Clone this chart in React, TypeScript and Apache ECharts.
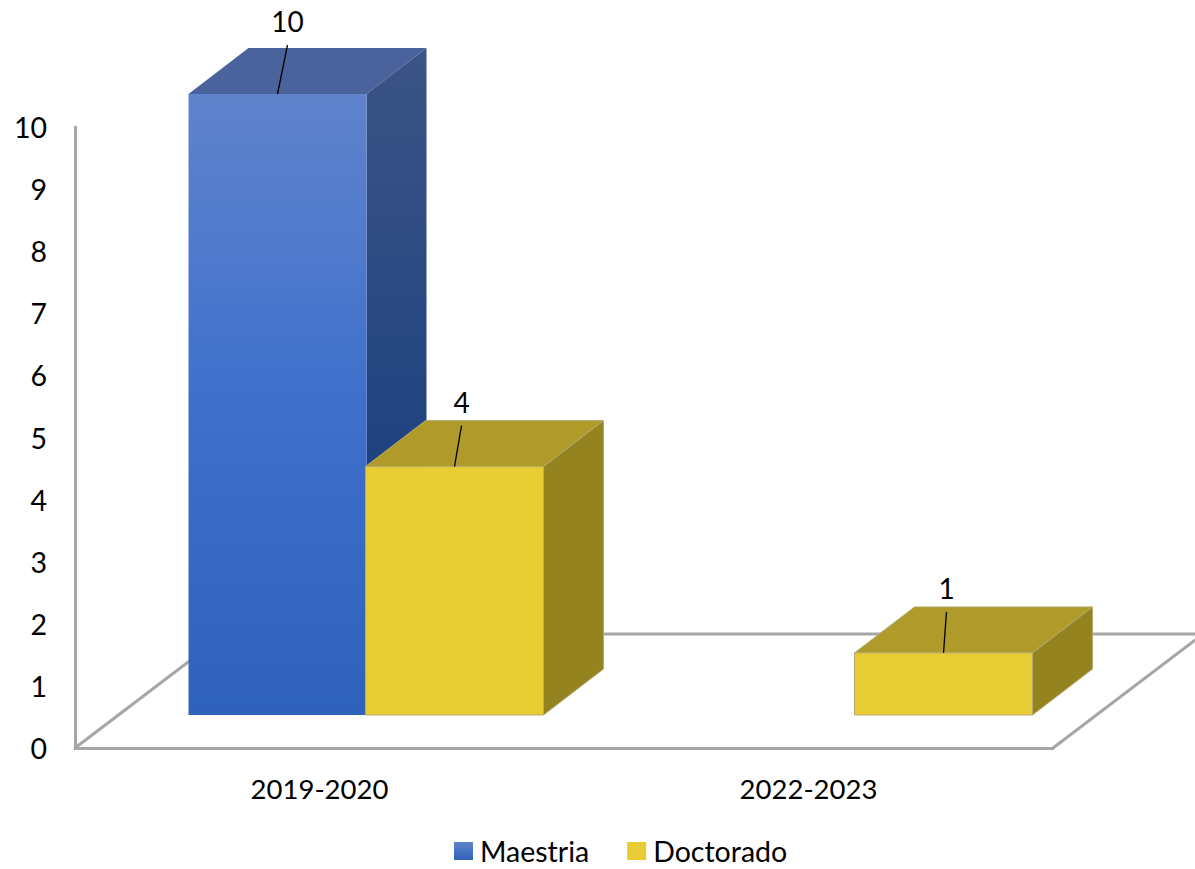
import React, { useEffect, useRef } from "react";
import * as echarts from "echarts";

const categories = ["2019-2020", "2022-2023"];
const maestria: (number | null)[] = [10, null];
const doctorado: (number | null)[] = [4, 1];
const yTicks = [0, 1, 2, 3, 4, 5, 6, 7, 8, 9, 10];

const FONT = "Lato";
const DEPTH_X = 60;
const DEPTH_Y = -46;
const FLOOR_LIFT = 33;
const BAR_W = 178;
const GRAY = "#a6a6a6";

const grad = (stops: [number, string][]) =>
  new echarts.graphic.LinearGradient(0, 0, 0, 1, stops.map(([offset, color]) => ({ offset, color })));

const blueStyle = {
  front: () => grad([[0, "#6083cc"], [0.5, "#3e70cc"], [1, "#2f62ba"]]),
  top: () => "#4a639d",
  side: () => grad([[0, "#3c5486"], [0.65, "#1e427f"], [1, "#1e427f"]]),
  stroke: "none",
  legend: () => grad([[0, "#6083cc"], [1, "#2f62ba"]]),
};
const yellowStyle = {
  front: () => "#e8cc33",
  top: () => "#b09b2a",
  side: () => "#94831f",
  stroke: "#b5ab72",
  legend: () => "#e8cc33",
};

function barRenderer(xOffset: number, look: typeof blueStyle, lean: number[], gap: number[]) {
  return (params: any, api: any) => {
    const v = api.value(1);
    if (v == null || isNaN(v)) return null;
    const cat = api.value(0);
    const top = api.coord([cat, v]);
    const base = api.coord([cat, 0]);
    const xL = top[0] + xOffset;
    const xR = xL + BAR_W;
    const yT = top[1] - FLOOR_LIFT;
    const yB = base[1] - FLOOR_LIFT;
    const i = params.dataIndex;
    const cx = (xL + xR) / 2;
    const leaderTop = yT - gap[i];
    const strokeCfg = { stroke: look.stroke, lineWidth: look.stroke === "none" ? 0 : 1 };
    return {
      type: "group",
      children: [
        {
          type: "polygon",
          shape: { points: [[xL, yT], [xR, yT], [xR + DEPTH_X, yT + DEPTH_Y], [xL + DEPTH_X, yT + DEPTH_Y]] },
          style: { fill: look.top(), ...strokeCfg },
        },
        {
          type: "polygon",
          shape: { points: [[xR, yT], [xR + DEPTH_X, yT + DEPTH_Y], [xR + DEPTH_X, yB + DEPTH_Y], [xR, yB]] },
          style: { fill: look.side(), ...strokeCfg },
        },
        {
          type: "rect",
          shape: { x: xL, y: yT, width: BAR_W, height: yB - yT },
          style: { fill: look.front(), ...strokeCfg },
        },
        {
          type: "line",
          shape: { x1: cx, y1: yT, x2: cx + lean[i], y2: leaderTop },
          style: { stroke: "#000", lineWidth: 1.3 },
        },
        {
          type: "text",
          style: {
            x: cx + lean[i],
            y: leaderTop - 24,
            text: String(v),
            fill: "#000",
            font: `28px ${FONT}`,
            align: "center",
            verticalAlign: "middle",
          },
        },
      ],
    };
  };
}

function floorRenderer(_params: any, api: any) {
  const o = api.coord([0, 0]);
  const size = api.size([1, 0])[0];
  const gridLeft = o[0] - size / 2;
  const gridRight = gridLeft + size * categories.length;
  const dx = 150;
  const dy = -114;
  const style = { stroke: GRAY, lineWidth: 3, fill: "none" };
  return {
    type: "group",
    children: [
      { type: "line", shape: { x1: gridLeft, y1: o[1], x2: gridLeft + dx, y2: o[1] + dy }, style },
      { type: "line", shape: { x1: gridLeft + dx, y1: o[1] + dy, x2: gridRight + dx, y2: o[1] + dy }, style },
      { type: "line", shape: { x1: gridRight, y1: o[1], x2: gridRight + dx, y2: o[1] + dy }, style },
    ],
  };
}

export default function App() {
  const ref = useRef<HTMLDivElement>(null);
  useEffect(() => {
    const chart = echarts.init(ref.current!, undefined, { renderer: "svg" });
    chart.setOption({
      animation: false,
      backgroundColor: "#fff",
      textStyle: { fontFamily: FONT },
      grid: { left: 75, top: 127, width: 978, height: 621, containLabel: false },
      legend: {
        left: 454,
        top: 836,
        padding: 0,
        icon: "rect",
        itemWidth: 19,
        itemHeight: 18,
        itemGap: 38,
        textStyle: { fontFamily: FONT, fontSize: 28.5, lineHeight: 30, color: "#000", padding: [0, 0, 0, 2] },
        data: ["Maestria", "Doctorado"],
      },
      xAxis: {
        type: "category",
        data: categories,
        axisLine: { show: true, lineStyle: { color: GRAY, width: 3 } },
        axisTick: { show: false },
        axisLabel: { fontFamily: FONT, fontSize: 27.5, color: "#000", margin: 26 },
      },
      yAxis: {
        type: "value",
        min: yTicks[0],
        max: yTicks[yTicks.length - 1],
        interval: 1,
        axisLine: { show: true, lineStyle: { color: GRAY, width: 3 } },
        axisTick: { show: false },
        splitLine: { show: false },
        axisLabel: { fontFamily: FONT, fontSize: 28.5, color: "#000", margin: 28 },
      },
      series: [
        {
          type: "custom",
          name: "floor",
          silent: true,
          clip: false,
          z: 1,
          renderItem: floorRenderer,
          data: [[0, 0]],
          encode: { x: 0, y: 1 },
        },
        {
          type: "custom",
          name: "Maestria",
          clip: false,
          z: 2,
          itemStyle: { color: blueStyle.legend() },
          renderItem: barRenderer(-131, blueStyle, [10, 0], [49, 0]),
          data: maestria.map((v, i) => [i, v]),
          encode: { x: 0, y: 1 },
        },
        {
          type: "custom",
          name: "Doctorado",
          clip: false,
          z: 3,
          itemStyle: { color: yellowStyle.legend() },
          renderItem: barRenderer(46, yellowStyle, [7, 3], [41, 41]),
          data: doctorado.map((v, i) => [i, v]),
          encode: { x: 0, y: 1 },
        },
      ],
    });
    return () => chart.dispose();
  }, []);
  return <div ref={ref} style={{ position: "absolute", left: 0, top: 0, width: 1195, height: 869 }} />;
}
